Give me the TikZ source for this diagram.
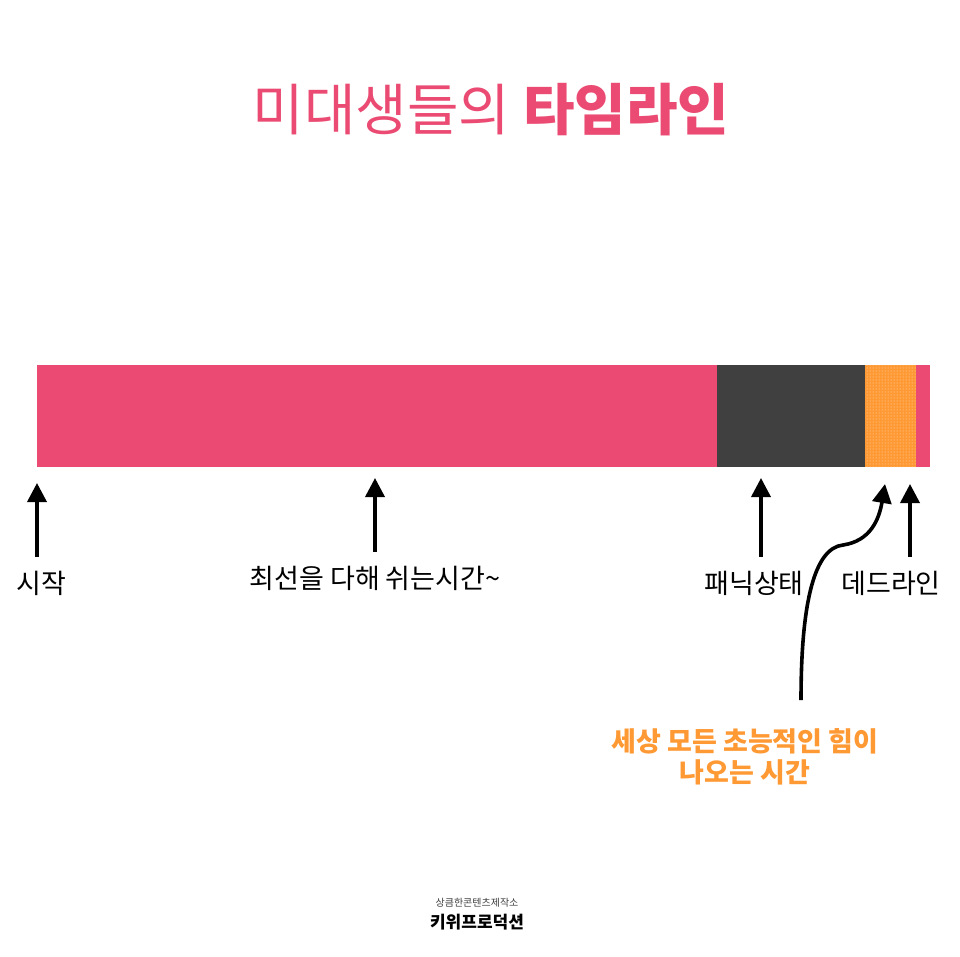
\documentclass[tikz,border=0pt]{standalone}
\usepackage{fontspec}
\setmainfont{Noto Sans CJK KR}
\usetikzlibrary{arrows.meta,positioning,patterns}
\definecolor{tlpink}{HTML}{EB4A72}
\definecolor{tldark}{HTML}{404040}
\definecolor{tlorange}{HTML}{FF9933}
\tikzset{
    tllabel/.style={font=\fontsize{27}{30}\selectfont,text=black,inner sep=2pt},
    tlnote/.style={font=\fontsize{27}{31}\selectfont\bfseries,text=tlorange,align=center,inner sep=2pt},
    tlarrow/.style={-{Triangle[length=19pt,width=19pt]},line width=3.6pt,shorten <=12pt},
    tlcurve/.style={-{Triangle[length=19pt,width=19pt]},line width=3.6pt}
}
\begin{document}
\begin{tikzpicture}[x=1pt,y=-1pt,node distance=3mm]
        \useasboundingbox[fill=white] (0,0) rectangle (960,956);
        % title
        \node[font=\fontsize{56}{64}\selectfont,text=tlpink] (title) at (491,110) {미대생들의 \textbf{타임라인}};
        % bar
        \fill[tlpink] (37,365) rectangle (930,467);
        \fill[tldark] (717,365) rectangle (865,467);
        \fill[tlorange] (865,365) rectangle (916,467);
        \fill[pattern=dots,pattern color=white!70!tlorange] (865,365) rectangle (916,467);
        \coordinate (startmark) at (37,483);
        \coordinate (restmark) at (375,478);
        \coordinate (panicmark) at (761,478);
        \coordinate (powermark) at (885,484);
        \coordinate (deadmark) at (910,484);
        % labels
        \node[tllabel] (start) at (41,583) {시작};
        \node[tllabel] (rest) at (375,578) {최선을 다해 쉬는시간\textasciitilde};
        \node[tllabel] (panic) at (754,583) {패닉상태};
        \node[tllabel] (dead) at (891,583) {데드라인};
        \node[tlnote] (power) at (745,757) {세상 모든 초능적인 힘이\\나오는 시간};
        % arrows
        \draw[tlarrow] (startmark |- start.north) -- (startmark);
        \draw[tlarrow] (restmark |- rest.north) -- (restmark);
        \draw[tlarrow] (panicmark |- panic.north) -- (panicmark);
        \draw[tlarrow] (deadmark |- dead.north) -- (deadmark);
        \draw[tlcurve] (801,700) .. controls (801,600) and (815,548) .. (843,545)
            .. controls (870,541) and (879,520) .. (powermark);
        % logo
        \node[font=\fontsize{10}{12}\selectfont,text=black!75] (maker) at (477,903) {상큼한콘텐츠제작소};
        \node[font=\fontsize{17}{19}\selectfont\bfseries,text=black,below=0pt of maker] (brand) {키위프로덕션};
    \end{tikzpicture}
\end{document}
